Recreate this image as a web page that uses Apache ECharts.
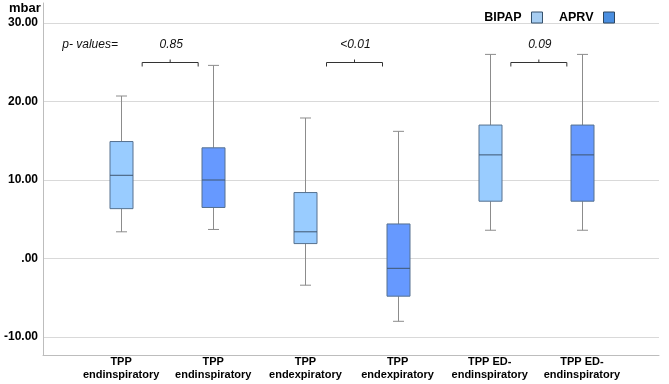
<!DOCTYPE html>
<html>
<head>
<meta charset="utf-8">
<script src="https://cdn.jsdelivr.net/npm/echarts@6/dist/echarts.min.js"></script>
<style>
  html, body { margin: 0; padding: 0; background: #fff; }
  #container { width: 669px; height: 384px; }
</style>
</head>
<body>
<div id="container"></div>
<script>
// categories on the x axis
var categories = ['TPP\nendinspiratory', 'TPP\nendinspiratory', 'TPP\nendexpiratory', 'TPP\nendexpiratory', 'TPP ED-\nendinspiratory', 'TPP ED-\nendinspiratory'];
var groups = ['BIPAP', 'APRV', 'BIPAP', 'APRV', 'BIPAP', 'APRV'];

// box values (mbar)
var boxMin    = [3.4, 3.7, -3.4, -8.0, 3.6, 3.6];
var boxQ1     = [6.35, 6.5, 1.9, -4.8, 7.3, 7.3];
var boxMedian = [10.6, 10.0, 3.4, -1.25, 13.2, 13.2];
var boxQ3     = [14.9, 14.1, 8.4, 4.4, 17.0, 17.0];
var boxMax    = [20.7, 24.6, 17.9, 16.2, 26.0, 26.0];

// y ticks
var yMin = -10, yMax = 30, yStep = 10;

// p values between pairs
var pPairs = [[0, 1], [2, 3], [4, 5]];
var pValues = ['0.85', '<0.01', '0.09'];
var bracketY = 25.0;
var pLabelY = 27.3;

var FONT = 'Liberation Sans, Arial, sans-serif';
var colors = { BIPAP: '#99ccff', APRV: '#6699ff' };

function boxData(name) {
    var out = [];
    for (var i = 0; i < categories.length; i++) {
        if (groups[i] === name) {
            out.push([i, boxMin[i], boxQ1[i], boxMedian[i], boxQ3[i], boxMax[i]]);
        }
    }
    return out;
}

function makeBoxRender(fill) {
    return function (params, api) {
        var x = api.value(0);
        var pMin = api.coord([x, api.value(1)]);
        var pQ1 = api.coord([x, api.value(2)]);
        var pMed = api.coord([x, api.value(3)]);
        var pQ3 = api.coord([x, api.value(4)]);
        var pMax = api.coord([x, api.value(5)]);
        var cx = Math.round(pMin[0]) + 0.5;
        var half = 11.5, cap = 5.5;
        var wStyle = { stroke: '#8c8c8c', lineWidth: 1 };
        return {
            type: 'group',
            children: [
                { type: 'line', shape: { x1: cx, y1: pMax[1], x2: cx, y2: pQ3[1] }, style: wStyle },
                { type: 'line', shape: { x1: cx, y1: pQ1[1], x2: cx, y2: pMin[1] }, style: wStyle },
                { type: 'line', shape: { x1: cx - cap, y1: pMax[1], x2: cx + cap, y2: pMax[1] }, style: wStyle },
                { type: 'line', shape: { x1: cx - cap, y1: pMin[1], x2: cx + cap, y2: pMin[1] }, style: wStyle },
                { type: 'rect', shape: { x: cx - half, y: pQ3[1], width: half * 2, height: pQ1[1] - pQ3[1] },
                  style: { fill: fill, stroke: '#56718f', lineWidth: 1 } },
                { type: 'line', shape: { x1: cx - half, y1: pMed[1], x2: cx + half, y2: pMed[1] },
                  style: { stroke: '#3f5670', lineWidth: 1 } }
            ]
        };
    };
}

var bracketData = pPairs.map(function (p) { return [p[0], p[1], bracketY, pLabelY]; });

function renderBracket(params, api) {
    var a = api.coord([api.value(0), api.value(2)]);
    var b = api.coord([api.value(1), api.value(2)]);
    var t = api.coord([api.value(0), api.value(3)]);
    var mid = (a[0] + b[0]) / 2 + 3;
    var y = Math.round(a[1]) + 0.5;
    var hw = 28;
    var st = { stroke: '#333', lineWidth: 1, fill: null };
    return {
        type: 'group',
        children: [
            { type: 'polyline', shape: { points: [[mid - hw, y + 4], [mid - hw, y], [mid + hw, y], [mid + hw, y + 4]] }, style: st },
            { type: 'line', shape: { x1: mid, y1: y, x2: mid, y2: y - 3 }, style: st },
            { type: 'text', x: mid + 1, y: t[1], style: { text: pValues[params.dataIndex], fill: '#111',
              font: 'italic 12px ' + FONT, align: 'center', verticalAlign: 'middle' } }
        ]
    };
}

function renderNote(params, api) {
    var p = api.coord([api.value(0), api.value(1)]);
    return { type: 'text', x: p[0] - 31, y: p[1], style: { text: 'p- values=', fill: '#111',
        font: 'italic 12px ' + FONT, align: 'center', verticalAlign: 'middle' } };
}

var myChart = echarts.init(document.getElementById('container'));
myChart.setOption({
    animation: false,
    title: { text: 'mbar', left: 9, top: 0, padding: [2, 0, 0, 0],
        textStyle: { fontFamily: FONT, fontSize: 13, fontWeight: 'bold', color: '#000' } },
    legend: {
        right: 49, top: 6, align: 'right', icon: 'rect', itemWidth: 11, itemHeight: 11, itemGap: 16,
        textStyle: { fontFamily: FONT, fontSize: 12.5, fontWeight: 'bold', color: '#000', padding: [0, 5, 0, 0] },
        data: [
            { name: 'BIPAP', itemStyle: { color: '#a6cdf2', borderColor: '#34506c', borderWidth: 1 } },
            { name: 'APRV', itemStyle: { color: '#4a8ee0', borderColor: '#2c4660', borderWidth: 1 } }
        ]
    },
    grid: [
        { left: 43, right: 10, top: 23, bottom: 47 },   // gridlines + y labels
        { left: 75, right: 41, top: 23, bottom: 47 },   // boxes + x labels
        { left: 43, right: 10, top: 3, bottom: 29 }     // axis lines
    ],
    xAxis: [
        { gridIndex: 0, type: 'value', show: false },
        { gridIndex: 1, type: 'category', data: categories,
          axisLine: { show: false }, axisTick: { show: false },
          axisLabel: { interval: 0, margin: 18, fontFamily: FONT, fontSize: 11, fontWeight: 'bold', color: '#000', lineHeight: 13 } },
        { gridIndex: 2, type: 'value', min: 0, max: 1,
          axisLine: { show: true, onZero: false, lineStyle: { color: '#bdbdbd' } },
          axisTick: { show: false }, axisLabel: { show: false }, splitLine: { show: false } }
    ],
    yAxis: [
        { gridIndex: 0, type: 'value', min: yMin, max: yMax, interval: yStep,
          axisLine: { show: false }, axisTick: { show: false },
          splitLine: { lineStyle: { color: '#d9d9d9' } },
          axisLabel: { margin: 5, fontFamily: FONT, fontSize: 12, fontWeight: 'bold', color: '#000',
            formatter: function (v) { return v === 0 ? '.00' : v.toFixed(2); } } },
        { gridIndex: 1, type: 'value', min: yMin, max: yMax, show: false },
        { gridIndex: 2, type: 'value', min: 0, max: 1,
          axisLine: { show: true, onZero: false, lineStyle: { color: '#bdbdbd' } },
          axisTick: { show: false }, axisLabel: { show: false }, splitLine: { show: false } }
    ],
    series: [
        { name: 'BIPAP', type: 'custom', xAxisIndex: 1, yAxisIndex: 1, itemStyle: { color: colors.BIPAP },
          renderItem: makeBoxRender(colors.BIPAP), encode: { x: 0, y: [1, 2, 3, 4, 5] }, data: boxData('BIPAP') },
        { name: 'APRV', type: 'custom', xAxisIndex: 1, yAxisIndex: 1, itemStyle: { color: colors.APRV },
          renderItem: makeBoxRender(colors.APRV), encode: { x: 0, y: [1, 2, 3, 4, 5] }, data: boxData('APRV') },
        { name: 'p', type: 'custom', xAxisIndex: 1, yAxisIndex: 1, silent: true,
          renderItem: renderBracket, encode: { x: [0, 1], y: [2, 3] }, data: bracketData },
        { name: 'note', type: 'custom', xAxisIndex: 1, yAxisIndex: 1, silent: true,
          renderItem: renderNote, encode: { x: 0, y: 1 }, data: [[0, pLabelY]] }
    ]
});
</script>
</body>
</html>
